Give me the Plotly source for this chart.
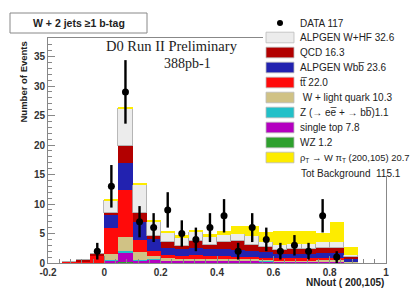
import numpy as np
import plotly.graph_objects as go

# ---------------- data ----------------
bin_width = 0.05
nn_centers = [-0.125, -0.075, -0.025, 0.025, 0.075, 0.125, 0.175, 0.225, 0.275, 0.325,
              0.375, 0.425, 0.475, 0.525, 0.575, 0.625, 0.675, 0.725, 0.775, 0.825, 0.875]

data_counts = [0, 0, 2, 13, 29, 7, 6, 9, 5, 4, 6, 8, 2, 6, 4, 2, 3, 2, 8, 1, 0]

wz        = [0, 0, 0, 0.05, 0.1, 0.05, 0.05, 0.05, 0.05, 0.05, 0.05, 0.05, 0.05, 0.05, 0.05, 0.05, 0.05, 0.05, 0.05, 0.05, 0]
single_top= [0, 0, 0, 0.35, 1.6, 0.4, 0.5, 0.4, 0.3, 0.3, 0.3, 0.3, 0.3, 0.3, 0.25, 0.2, 0.2, 0.2, 0.2, 0.2, 0.1]
zee_bb    = [0, 0, 0, 0.05, 0.3, 0.05, 0.05, 0.05, 0.05, 0.05, 0.05, 0.05, 0.05, 0.05, 0.05, 0.05, 0.05, 0.05, 0.05, 0.05, 0]
w_light   = [0, 0, 0, 1.0, 2.4, 1.4, 0.6, 0.3, 0.3, 0.3, 0.3, 0.3, 0.3, 0.3, 0.25, 0.2, 0.2, 0.2, 0.25, 0.25, 0.1]
ttbar     = [0.1, 0.3, 1.2, 4.4, 7.9, 2.0, 0.9, 0.6, 0.5, 0.6, 0.5, 0.5, 0.4, 0.4, 0.3, 0.3, 0.3, 0.3, 0.3, 0.3, 0.1]
wbb       = [0, 0, 0.1, 2.4, 4.6, 3.0, 2.0, 1.2, 1.1, 1.2, 1.1, 1.1, 1.1, 1.0, 0.9, 0.8, 0.8, 0.8, 0.8, 0.8, 0.3]
qcd       = [0, 0.2, 0.2, 0.2, 3.0, 1.6, 0.5, 0.9, 0.6, 1.2, 0.7, 1.2, 1.6, 0.9, 0.9, 0.6, 0.8, 0.8, 0.85, 0.95, 0.4]
w_hf      = [0, 0, 0, 2.2, 6.3, 4.8, 2.4, 1.7, 1.5, 1.6, 1.4, 1.2, 1.2, 1.6, 0.8, 0.8, 0.8, 0.8, 1.0, 1.0, 0.4]
signal    = [0, 0, 0, 0.2, 0.3, 0.3, 0.3, 0.3, 0.3, 0.3, 0.5, 0.8, 1.2, 1.6, 1.8, 2.4, 2.2, 2.3, 1.6, 3.3, 1.3]

legend_labels = [
    "ALPGEN W+HF 32.6", "QCD 16.3", "ALPGEN Wbb\u0305 23.6", "tt\u0305 22.0",
    " W + light quark 10.3", "Z (\u2192 ee\u0305 + \u2192 bb\u0305)1.1", "single top 7.8", "WZ 1.2",
    "\u03c1<sub>T</sub> \u2192 W \u03c0<sub>T</sub> (200,105) 20.7",
]
data_label = "DATA 117"
tot_label = "Tot Background  115.1"

# ---------------- style ----------------
C_WHF = "#ececec"
C_QCD = "#b20000"
C_WBB = "#2222b0"
C_TT = "#ff0a0a"
C_WL = "#d0c285"
C_Z = "#22c0c8"
C_ST = "#b400c0"
C_WZ = "#2ea02e"
C_SIG = "#fdec00"

W, H = 419, 289
L, R, T, B = 48, 33, 38, 26
PW, PH = W - L - R, H - T - B


def px(x):
    return (x - L) / PW


def py(y):
    return (H - B - y) / PH


fig = go.Figure()

stack = [
    (wz, C_WZ), (single_top, C_ST), (zee_bb, C_Z), (w_light, C_WL), (ttbar, C_TT),
    (wbb, C_WBB), (qcd, C_QCD), (w_hf, C_WHF), (signal, C_SIG),
]
for vals, col in stack:
    line = dict(width=0)
    if col == C_WHF:
        line = dict(width=0.8, color="#a8a8a8")
    fig.add_trace(go.Bar(x=nn_centers, y=vals, width=bin_width, marker=dict(color=col, line=line),
                         showlegend=False, hoverinfo="skip"))

dx = [c for c, n in zip(nn_centers, data_counts) if n > 0]
dy = [n for n in data_counts if n > 0]
fig.add_trace(go.Scatter(x=dx, y=dy, mode="markers",
                         marker=dict(color="black", size=7),
                         error_y=dict(type="data", array=list(np.sqrt(dy)), thickness=2.4, width=0, color="black"),
                         showlegend=False, hoverinfo="skip"))

shapes = []
annotations = []
LF = dict(family="Liberation Sans", size=10, color="#222")

# white legend background covering the top-right of the frame
shapes.append(dict(type="rect", xref="paper", yref="paper", x0=px(263), x1=px(W + 5), y0=py(176), y1=py(10),
                   fillcolor="white", line=dict(width=0), layer="above"))

# title box
shapes.append(dict(type="rect", xref="paper", yref="paper", x0=px(10), x1=px(147), y0=py(33), y1=py(13),
                   fillcolor="white", line=dict(width=1, color="#888"), layer="above"))
annotations.append(dict(text="<b>W + 2 jets \u22651 b-tag</b>", xref="paper", yref="paper", x=px(78.5), y=py(23),
                        showarrow=False, xanchor="center", yanchor="middle",
                        font=dict(family="Liberation Sans", size=10.5, color="#222")))

# preliminary text
annotations.append(dict(text="D0 Run II Preliminary", xref="paper", yref="paper", x=px(104), y=py(46),
                        showarrow=False, xanchor="left", yanchor="middle",
                        font=dict(family="Liberation Serif", size=14.5, color="#222")))
annotations.append(dict(text="388pb-1", xref="paper", yref="paper", x=px(162), y=py(64),
                        showarrow=False, xanchor="left", yanchor="middle",
                        font=dict(family="Liberation Serif", size=14, color="#222")))

# legend
shapes.append(dict(type="circle", xref="paper", yref="paper", x0=px(277), x1=px(283), y0=py(26), y1=py(20),
                   fillcolor="black", line=dict(width=0), layer="above"))
annotations.append(dict(text=data_label, xref="paper", yref="paper", x=px(298), y=py(23),
                        showarrow=False, xanchor="left", yanchor="middle", font=LF))
leg_cols = [C_WHF, C_QCD, C_WBB, C_TT, C_WL, C_Z, C_ST, C_WZ, C_SIG]
for i, (lab, col) in enumerate(zip(legend_labels, leg_cols)):
    yc = 37.5 + 15 * i
    shapes.append(dict(type="rect", xref="paper", yref="paper", x0=px(266), x1=px(294),
                       y0=py(yc + 5.3), y1=py(yc - 5.3), fillcolor=col,
                       line=dict(width=0.8, color="#bbbbbb"), layer="above"))
    f = LF if i < 8 else dict(LF, size=9.4)
    annotations.append(dict(text=lab, xref="paper", yref="paper", x=px(298), y=py(yc),
                            showarrow=False, xanchor="left", yanchor="middle", font=f))
annotations.append(dict(text=tot_label, xref="paper", yref="paper", x=px(299), y=py(173),
                        showarrow=False, xanchor="left", yanchor="middle", font=LF))

# axis titles
annotations.append(dict(text="<b>Number of Events</b>", xref="paper", yref="paper", x=px(22.5), y=py(82),
                        showarrow=False, xanchor="center", yanchor="middle", textangle=-90,
                        font=dict(family="Liberation Sans", size=9.5, color="#222")))
annotations.append(dict(text="<b>NNout ( 200,105)</b>", xref="paper", yref="paper", x=px(386), y=py(282),
                        showarrow=False, xanchor="right", yanchor="middle",
                        font=dict(family="Liberation Sans", size=10, color="#222")))

fig.update_layout(
    width=W, height=H,
    margin=dict(l=L, r=R, t=T, b=B),
    paper_bgcolor="white", plot_bgcolor="white",
    barmode="stack", bargap=0,
    shapes=shapes, annotations=annotations,
    showlegend=False,
)
fig.update_xaxes(range=[-0.2, 1.0], tickvals=[-0.2, 0, 0.2, 0.4, 0.6, 0.8, 1.0],
                 ticktext=["-0.2", "0", "0.2", "0.4", "0.6", "0.8", "1"],
                 ticks="inside", ticklen=7, tickcolor="#888", showgrid=False, zeroline=False,
                 showline=True, linecolor="#888", linewidth=1, mirror=True,
                 minor=dict(ticks="inside", ticklen=4, dtick=0.04, tick0=0, tickcolor="#888"),
                 tickfont=dict(family="Liberation Sans", size=10, color="#333", weight="bold"))
fig.update_yaxes(range=[0, PH / 5.9], tickvals=[0, 5, 10, 15, 20, 25, 30, 35],
                 ticks="inside", ticklen=7, tickcolor="#888", showgrid=False, zeroline=False,
                 showline=True, linecolor="#888", linewidth=1, mirror=True,
                 minor=dict(ticks="inside", ticklen=4, dtick=1, tick0=0, tickcolor="#888"),
                 tickfont=dict(family="Liberation Sans", size=10, color="#333", weight="bold"))

fig.write_html("out.html", config={"displayModeBar": False},
               post_script="document.body.style.margin='0';document.body.style.overflow='hidden';")
